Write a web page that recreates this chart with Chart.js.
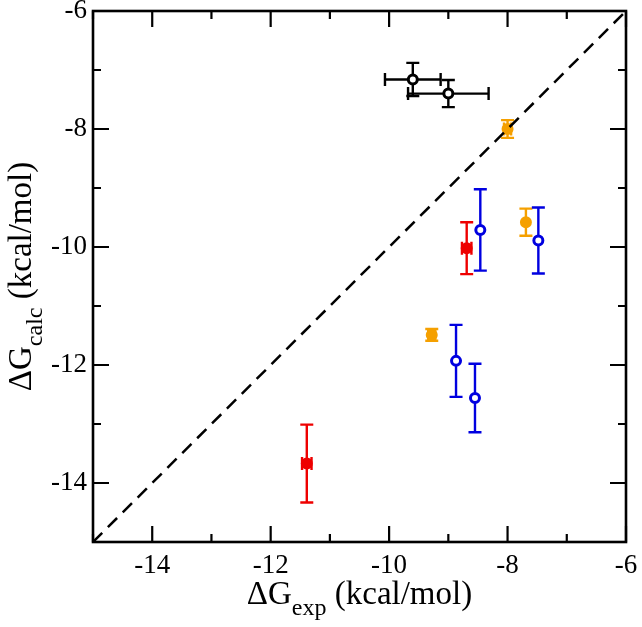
<!DOCTYPE html>
<html>
<head>
<meta charset="utf-8">
<script src="https://cdn.jsdelivr.net/npm/chart.js@4.4.0/dist/chart.umd.min.js"></script>
<style>
  html, body { margin: 0; padding: 0; background: #fff; }
  #wrap { width: 642px; height: 627px; }
</style>
</head>
<body>
<div id="wrap"><canvas id="dgChart"></canvas></div>
<script>
// axis range (kcal/mol)
const axisMin = -15;
const axisMax = -6;

// black series
const blackX = [-9.60, -9.00];
const blackY = [-7.16, -7.40];
const blackXErr = [0.47, 0.68];
const blackYErr = [0.28, 0.23];

// orange series
const orangeX = [-8.00, -7.69, -9.28];
const orangeY = [-8.00, -9.58, -11.49];
const orangeXErr = [0.06, 0.00, 0.06];
const orangeYErr = [0.15, 0.23, 0.10];

// red series
const redX = [-8.69, -11.39];
const redY = [-10.02, -13.67];
const redXErr = [0.08, 0.08];
const redYErr = [0.44, 0.66];

// blue series
const blueX = [-8.46, -7.48, -8.87, -8.55];
const blueY = [-9.71, -9.89, -11.93, -12.56];
const blueXErr = [0, 0, 0, 0];
const blueYErr = [0.69, 0.56, 0.61, 0.58];

// y = x reference line
const diagX = [-15, -6];
const diagY = [-15, -6];

const serif = 'Liberation Serif';
Chart.defaults.font.family = serif;

const toPoints = (xs, ys) => xs.map((v, i) => ({ x: v, y: ys[i] }));

function series(color, xs, ys, xErr, yErr, fill) {
  return {
    data: toPoints(xs, ys),
    xErr: xErr,
    yErr: yErr,
    borderColor: color,
    backgroundColor: fill ? color : '#fff',
    pointRadius: fill ? 4.5 : 4.5,
    pointBorderWidth: 3,
    pointHoverRadius: 4.5,
    showLine: false,
    order: 1
  };
}

// error bars under the markers
const errorBars = {
  id: 'errorBars',
  beforeDatasetsDraw(chart) {
    const { ctx, scales: { x, y } } = chart;
    const cap = 6.5;
    ctx.save();
    ctx.lineWidth = 2.4;
    chart.data.datasets.forEach(ds => {
      if (!ds.yErr) return;
      ctx.strokeStyle = ds.borderColor;
      ds.data.forEach((p, i) => {
        const px = x.getPixelForValue(p.x);
        const py = y.getPixelForValue(p.y);
        ctx.beginPath();
        const ye = ds.yErr[i];
        if (ye > 0) {
          const top = y.getPixelForValue(p.y + ye);
          const bot = y.getPixelForValue(p.y - ye);
          ctx.moveTo(px, top); ctx.lineTo(px, bot);
          ctx.moveTo(px - cap, top); ctx.lineTo(px + cap, top);
          ctx.moveTo(px - cap, bot); ctx.lineTo(px + cap, bot);
        }
        const xe = ds.xErr[i];
        if (xe > 0) {
          const l = x.getPixelForValue(p.x - xe);
          const r = x.getPixelForValue(p.x + xe);
          ctx.moveTo(l, py); ctx.lineTo(r, py);
          ctx.moveTo(l, py - cap); ctx.lineTo(l, py + cap);
          ctx.moveTo(r, py - cap); ctx.lineTo(r, py + cap);
        }
        ctx.stroke();
      });
    });
    ctx.restore();
  }
};

// box frame with inward ticks on all four sides
const frameTicks = {
  id: 'frameTicks',
  afterDatasetsDraw(chart) {
    const { ctx, chartArea: a, scales: { x, y } } = chart;
    ctx.save();
    ctx.strokeStyle = '#000';
    ctx.lineWidth = 2.2;
    ctx.beginPath();
    x.ticks.forEach(t => {
      const px = x.getPixelForValue(t.value);
      const len = t.value % 2 === 0 ? 16 : 8;
      ctx.moveTo(px, a.bottom); ctx.lineTo(px, a.bottom - len);
      ctx.moveTo(px, a.top); ctx.lineTo(px, a.top + len);
    });
    y.ticks.forEach(t => {
      const py = y.getPixelForValue(t.value);
      const len = t.value % 2 === 0 ? 16 : 8;
      ctx.moveTo(a.left, py); ctx.lineTo(a.left + len, py);
      ctx.moveTo(a.right, py); ctx.lineTo(a.right - len, py);
    });
    ctx.stroke();
    ctx.lineWidth = 2.6;
    ctx.strokeRect(a.left, a.top, a.right - a.left, a.bottom - a.top);
    ctx.restore();
  }
};

// axis titles with subscripts
function subTitle(ctx, main, sub, rest) {
  const big = '33px "' + serif + '"', small = '24px "' + serif + '"';
  ctx.font = big;
  const w1 = ctx.measureText(main).width;
  const w3 = ctx.measureText(rest).width;
  ctx.font = small;
  const w2 = ctx.measureText(sub).width;
  let xx = -(w1 + w2 + w3) / 2;
  ctx.fillStyle = '#000';
  ctx.textBaseline = 'alphabetic';
  ctx.textAlign = 'left';
  ctx.font = big; ctx.fillText(main, xx, 0); xx += w1;
  ctx.font = small; ctx.fillText(sub, xx, 11); xx += w2;
  ctx.font = big; ctx.fillText(rest, xx, 0);
}

const axisTitles = {
  id: 'axisTitles',
  afterDraw(chart) {
    const { ctx, chartArea: a } = chart;
    ctx.save();
    ctx.translate((a.left + a.right) / 2, 604);
    subTitle(ctx, '\u0394G', 'exp', ' (kcal/mol)');
    ctx.restore();
    ctx.save();
    ctx.translate(31, (a.top + a.bottom) / 2);
    ctx.rotate(-Math.PI / 2);
    subTitle(ctx, '\u0394G', 'calc', ' (kcal/mol)');
    ctx.restore();
  }
};

const evenLabel = v => (v % 2 === 0 ? String(v) : '');

const ctx = document.getElementById('dgChart').getContext('2d');
new Chart(ctx, {
  type: 'scatter',
  data: {
    datasets: [
      {
        data: toPoints(diagX, diagY),
        showLine: true,
        borderColor: '#000',
        borderWidth: 2.5,
        borderDash: [13, 8],
        pointRadius: 0,
        pointHoverRadius: 0,
        fill: false,
        order: 0
      },
      series('#000000', blackX, blackY, blackXErr, blackYErr, false),
      series('#f5a000', orangeX, orangeY, orangeXErr, orangeYErr, true),
      series('#ee0000', redX, redY, redXErr, redYErr, true),
      series('#0000e0', blueX, blueY, blueXErr, blueYErr, false)
    ]
  },
  options: {
    responsive: true,
    maintainAspectRatio: false,
    animation: false,
    layout: { padding: { left: 0, top: 11, right: 16, bottom: 0 } },
    plugins: {
      legend: { display: false },
      tooltip: { enabled: false }
    },
    scales: {
      x: {
        type: 'linear',
        min: axisMin,
        max: axisMax,
        grid: { display: false, drawTicks: false },
        border: { display: false },
        ticks: {
          stepSize: 1,
          autoSkip: false,
          maxRotation: 0,
          padding: 8,
          color: '#000',
          font: { family: serif, size: 27 },
          callback: evenLabel
        },
        afterFit(s) { s.height = 85; s.paddingLeft = 0; s.paddingRight = 0; }
      },
      y: {
        type: 'linear',
        min: axisMin,
        max: axisMax,
        grid: { display: false, drawTicks: false },
        border: { display: false },
        ticks: {
          stepSize: 1,
          autoSkip: false,
          padding: 6,
          color: '#000',
          font: { family: serif, size: 27 },
          callback: evenLabel
        },
        afterFit(s) { s.width = 93; s.paddingTop = 0; s.paddingBottom = 0; }
      }
    }
  },
  plugins: [errorBars, frameTicks, axisTitles]
});
</script>
</body>
</html>
